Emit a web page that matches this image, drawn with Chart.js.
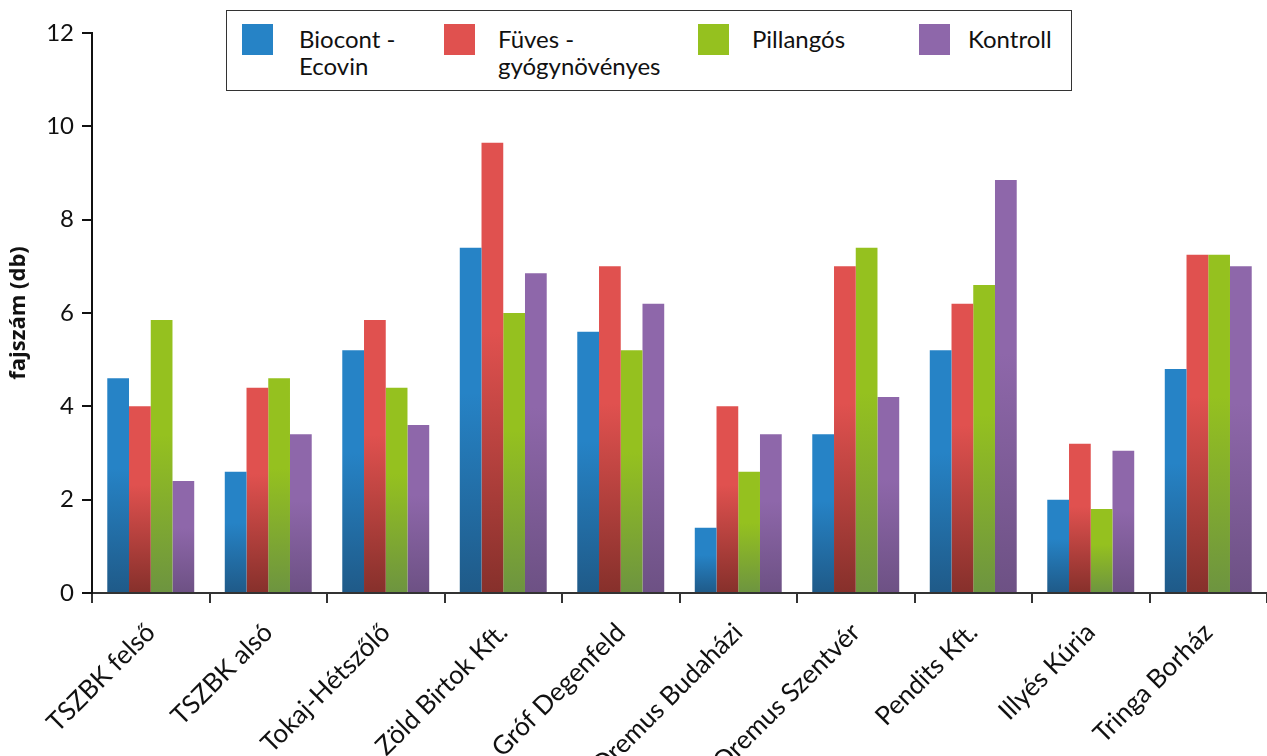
<!DOCTYPE html>
<html>
<head>
<meta charset="utf-8">
<script src="https://cdn.jsdelivr.net/npm/chart.js@4"></script>
<style>
  html, body { margin: 0; padding: 0; background: #fff; }
  #wrap { position: relative; width: 1267px; height: 756px; }
  #legend { position: absolute; left: 226px; top: 10px; width: 844px; height: 79px;
            border: 1.5px solid #333; background: #fff; font-family: Lato, "Open Sans", sans-serif;
            font-size: 24px; color: #111; }
  .item { position: absolute; top: 13px; }
  .sw { position: absolute; top: 0; width: 31px; height: 31px; }
  .txt { position: absolute; top: 1px; line-height: 27px; white-space: nowrap; }
</style>
</head>
<body>
<div id="wrap">
  <canvas id="c" width="1267" height="756"></canvas>
  <div id="legend"></div>
</div>
<script>
const categories = ["TSZBK felső", "TSZBK alsó", "Tokaj-Hétszőlő", "Zöld Birtok Kft.", "Gróf Degenfeld",
                    "Oremus Budaházi", "Oremus Szentvér", "Pendits Kft.", "Illyés Kúria", "Tringa Borház"];
const seriesNames = [["Biocont -", "Ecovin"], ["Füves -", "gyógynövényes"], ["Pillangós"], ["Kontroll"]];
const biocont  = [4.6, 2.6, 5.2, 7.4, 5.6, 1.4, 3.4, 5.2, 2.0, 4.8];
const fuves    = [4.0, 4.4, 5.85, 9.65, 7.0, 4.0, 7.0, 6.2, 3.2, 7.25];
const pillangos= [5.85, 4.6, 4.4, 6.0, 5.2, 2.6, 7.4, 6.6, 1.8, 7.25];
const kontroll = [2.4, 3.4, 3.6, 6.85, 6.2, 3.4, 4.2, 8.85, 3.05, 7.0];
const yTicks = [0, 2, 4, 6, 8, 10, 12];

const topColors = ["#2683c6", "#e0514f", "#95c11f", "#8e67aa"];
const bottomColors = ["#1f5a88", "#86302b", "#6d9440", "#6d5184"];
const values = [biocont, fuves, pillangos, kontroll];

function barFill(i) {
  return function(ctx) {
    const chart = ctx.chart;
    const area = chart.chartArea;
    if (!area || ctx.type !== 'data' || !chart.scales.y) return topColors[i];
    const y = chart.scales.y;
    const top = y.getPixelForValue(ctx.raw);
    const bottom = y.getPixelForValue(0);
    if (!(bottom > top)) return topColors[i];
    const g = chart.ctx.createLinearGradient(0, top, 0, bottom);
    g.addColorStop(0, topColors[i]);
    g.addColorStop(0.42, topColors[i]);
    g.addColorStop(1, bottomColors[i]);
    return g;
  };
}

const datasets = values.map((v, i) => ({
  label: seriesNames[i].join(" "),
  data: v,
  backgroundColor: barFill(i),
  borderWidth: 0,
  categoryPercentage: 0.74,
  barPercentage: 1.0
}));

// HTML legend
const legendPos = [15, 217, 471, 692];
const legendTextOffs = [57, 54, 54, 49];
const leg = document.getElementById('legend');
seriesNames.forEach((name, i) => {
  const it = document.createElement('div');
  it.className = 'item';
  it.style.left = legendPos[i] + 'px';
  const sw = document.createElement('div');
  sw.className = 'sw';
  sw.style.left = '0px';
  sw.style.background = topColors[i];
  const tx = document.createElement('div');
  tx.className = 'txt';
  tx.style.left = legendTextOffs[i] + 'px';
  tx.innerHTML = name.join('<br>');
  it.appendChild(sw); it.appendChild(tx);
  leg.appendChild(it);
});

new Chart(document.getElementById('c'), {
  type: 'bar',
  data: { labels: categories, datasets },
  options: {
    responsive: false,
    animation: false,
    devicePixelRatio: 1,
    layout: { padding: { top: 33, left: 0, right: 0, bottom: 0 } },
    plugins: { legend: { display: false }, tooltip: { enabled: false } },
    scales: {
      x: {
        grid: { drawOnChartArea: false, offset: true, color: '#333', lineWidth: 2, tickLength: 10, tickColor: '#333' },
        border: { color: '#333', width: 2 },
        ticks: { maxRotation: 45, minRotation: 45, autoSkip: false, color: '#111', padding: 14, labelOffset: 0,
                 font: { family: 'Lato, "Open Sans", sans-serif', size: 26 } },
        afterFit: s => { s.height = 163; }
      },
      y: {
        min: 0, max: 12,
        afterBuildTicks: s => { s.ticks = yTicks.map(v => ({ value: v })); },
        grid: { drawOnChartArea: false, color: '#111', lineWidth: 2, tickLength: 10, tickColor: '#111' },
        border: { color: '#111', width: 2 },
        ticks: { color: '#111', padding: 8, font: { family: 'Lato, "Open Sans", sans-serif', size: 24 } },
        title: { display: true, text: 'fajszám (db)', color: '#111', padding: { top: 6, bottom: 0 },
                 font: { family: '"Open Sans", sans-serif', size: 22, weight: 'bold' } },
        afterFit: s => { s.width = 92; }
      }
    }
  }
});
</script>
</body>
</html>
